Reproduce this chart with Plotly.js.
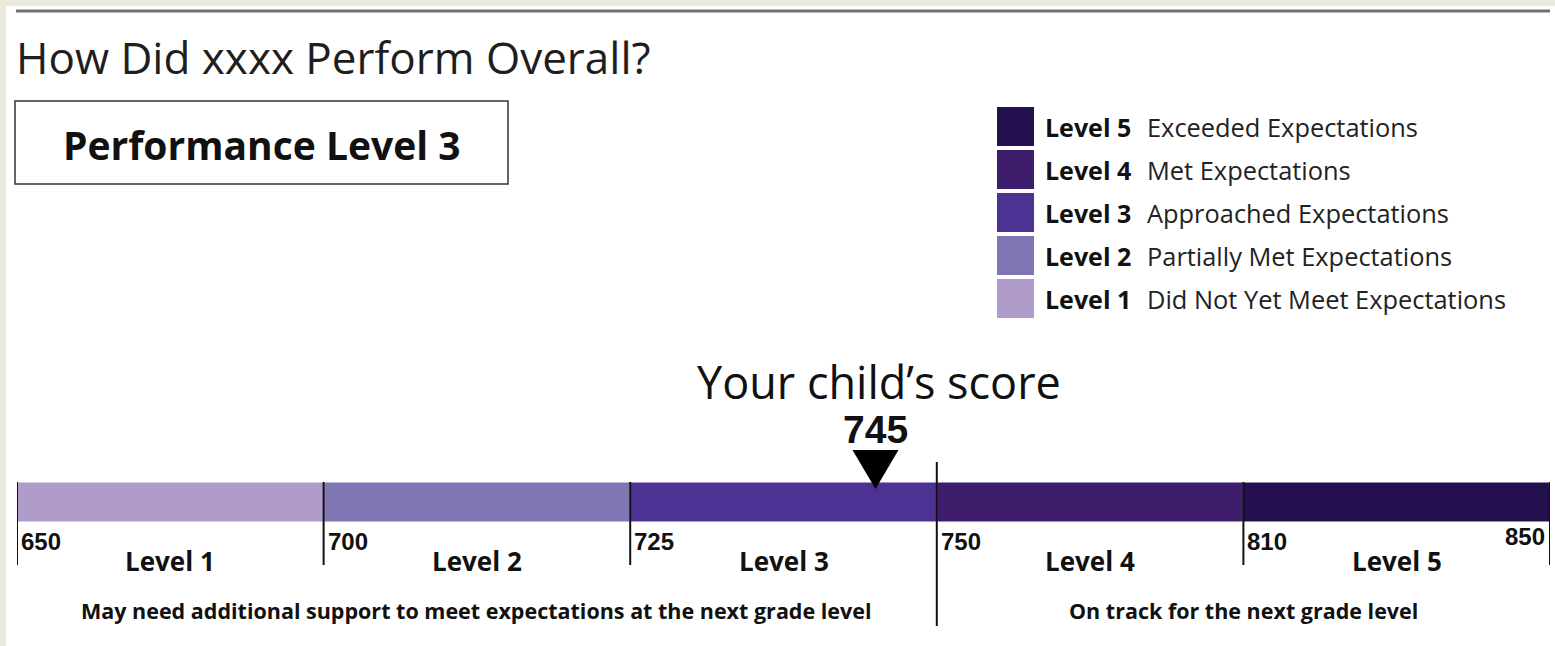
<!DOCTYPE html>
<html>
<head>
<meta charset="utf-8">
<script src="https://cdn.plot.ly/plotly-3.0.1.min.js"></script>
<style>html,body{margin:0;padding:0;background:#fff;}#chart{width:1555px;height:646px;}</style>
</head>
<body>
<div id="chart"></div>
<script>
// ---- data ----
const studentName = "xxxx";
const performanceLevel = 3;
const score = 745;
const cutScores = [650, 700, 725, 750, 810, 850];
const levelNames = ["Level 1", "Level 2", "Level 3", "Level 4", "Level 5"];
const levelDescriptions = ["Did Not Yet Meet Expectations", "Partially Met Expectations", "Approached Expectations", "Met Expectations", "Exceeded Expectations"];
const levelColors = ["#b09ccb", "#8076b4", "#4c3292", "#3e1e6c", "#24104f"];
const groupLabels = ["May need additional support to meet expectations at the next grade level", "On track for the next grade level"];
const groupLevels = [[0, 1, 2], [3, 4]];

// ---- helpers ----
const W = 1555, H = 646;
const px = x => x / W;
const py = y => 1 - y / H;
const FONT = "Open Sans, Noto Sans, sans-serif";

// each level occupies one equal-width segment on the axis
const segIndex = levelNames.map((_, i) => i);
function scoreToAxis(s) {
  for (let i = 0; i < cutScores.length - 1; i++) {
    if (s >= cutScores[i] && s <= cutScores[i + 1]) {
      return i + (s - cutScores[i]) / (cutScores[i + 1] - cutScores[i]);
    }
  }
  return 0;
}
const scorePos = scoreToAxis(score);

const BAR_Y = 502, BAR_H = 40;

const traces = [{
  type: "bar",
  orientation: "h",
  y: levelNames.map(() => BAR_Y),
  x: levelNames.map(() => 1),
  base: segIndex,
  width: BAR_H,
  marker: { color: levelColors, line: { color: "#ffffff", width: 1 } },
  hoverinfo: "skip"
}];

const shapes = [];
const annotations = [];

// frame
shapes.push({ type: "rect", xref: "paper", yref: "paper", x0: 0, x1: px(6), y0: 0, y1: 1, fillcolor: "#ece9df", line: { width: 0 }, layer: "below" });
shapes.push({ type: "rect", xref: "paper", yref: "paper", x0: 0, x1: 1, y0: py(6), y1: 1, fillcolor: "#ece9df", line: { width: 0 }, layer: "below" });
shapes.push({ type: "line", xref: "paper", yref: "paper", x0: px(16), x1: px(1550), y0: py(11), y1: py(11), line: { color: "#707070", width: 3 } });

// title
annotations.push({ xref: "paper", yref: "paper", x: px(14), y: py(57), xanchor: "left", yanchor: "middle", showarrow: false,
  text: "How Did " + studentName + " Perform Overall?", font: { family: FONT, size: 44, color: "#1e1e1e" } });

// performance level box
shapes.push({ type: "rect", xref: "paper", yref: "paper", x0: px(15), x1: px(508), y0: py(184), y1: py(101), line: { color: "#333", width: 1.5 }, fillcolor: "rgba(0,0,0,0)" });
annotations.push({ xref: "paper", yref: "paper", x: px(262), y: py(144), xanchor: "center", yanchor: "middle", showarrow: false,
  text: "<b>Performance Level " + performanceLevel + "</b>", font: { family: FONT, size: 39, color: "#111" } });

// custom legend (Level 5 at top)
for (let k = 0; k < levelNames.length; k++) {
  const i = levelNames.length - 1 - k;
  const top = 107 + k * 43;
  shapes.push({ type: "rect", xref: "paper", yref: "paper", x0: px(997), x1: px(1034), y0: py(top + 39), y1: py(top), fillcolor: levelColors[i], line: { width: 0 } });
  annotations.push({ xref: "paper", yref: "paper", x: px(1043), y: py(top + 20), xanchor: "left", yanchor: "middle", showarrow: false,
    text: "<b>" + levelNames[i] + "</b>", font: { family: FONT, size: 25, color: "#111" } });
  annotations.push({ xref: "paper", yref: "paper", x: px(1145), y: py(top + 20), xanchor: "left", yanchor: "middle", showarrow: false,
    text: levelDescriptions[i], font: { family: FONT, size: 25.4, color: "#222" } });
}

// score label and marker
annotations.push({ xref: "x", yref: "y", x: scorePos, y: 381, xanchor: "center", yanchor: "middle", showarrow: false, xshift: 4, borderpad: 0,
  text: "Your child\u2019s score", font: { family: FONT, size: 45, color: "#111" } });
annotations.push({ xref: "x", yref: "y", x: scorePos, y: 429, xanchor: "center", yanchor: "middle", showarrow: false, borderpad: 0,
  text: "<b>" + score + "</b>", font: { family: "Liberation Sans, Arial, sans-serif", size: 39, color: "#111" } });
shapes.push({ type: "path", xref: "x", yref: "y", xsizemode: "pixel", ysizemode: "pixel", xanchor: scorePos, yanchor: 489,
  path: "M-23,39 L23,39 L0,0 Z", fillcolor: "#000", line: { width: 0 } });

// tick lines & cut score labels
const groupBoundary = groupLevels[1][0];
cutScores.forEach((c, i) => {
  const isBoundary = i === groupBoundary;
  shapes.push({ type: "line", xref: "x", yref: "y", x0: i, x1: i, y0: isBoundary ? 462 : 482, y1: isBoundary ? 626 : 565,
    line: { color: "#111", width: 2 } });
  const last = i === cutScores.length - 1;
  annotations.push({ xref: "x", yref: "y", x: i, y: last ? 536 : 541, xanchor: last ? "right" : "left", yanchor: "middle", showarrow: false,
    xshift: last ? -3 : 2, text: "<b>" + c + "</b>", font: { family: "Liberation Sans Narrow, Liberation Sans, Arial, sans-serif", size: 24, color: "#111" } });
});

// level labels
levelNames.forEach((n, i) => {
  annotations.push({ xref: "x", yref: "y", x: i + 0.5, y: 561, xanchor: "center", yanchor: "middle", showarrow: false,
    text: "<b>" + n + "</b>", font: { family: FONT, size: 26, color: "#111" } });
});

// group labels
groupLabels.forEach((g, k) => {
  const lv = groupLevels[k];
  const center = (lv[0] + lv[lv.length - 1] + 1) / 2;
  annotations.push({ xref: "x", yref: "y", x: center, y: 610, xanchor: "center", yanchor: "middle", showarrow: false,
    text: "<b>" + g + "</b>", font: { family: FONT, size: 21.5, color: "#111" } });
});

const layout = {
  width: W, height: H,
  margin: { l: 0, r: 0, t: 0, b: 0 },
  paper_bgcolor: "#ffffff", plot_bgcolor: "rgba(0,0,0,0)",
  showlegend: false,
  bargap: 0,
  xaxis: { domain: [px(17), px(1550)], range: [0, levelNames.length], visible: false, fixedrange: true },
  yaxis: { domain: [0, 1], range: [H, 0], visible: false, fixedrange: true },
  shapes: shapes,
  annotations: annotations
};

Plotly.newPlot("chart", traces, layout, { displayModeBar: false, staticPlot: true });
</script>
</body>
</html>
